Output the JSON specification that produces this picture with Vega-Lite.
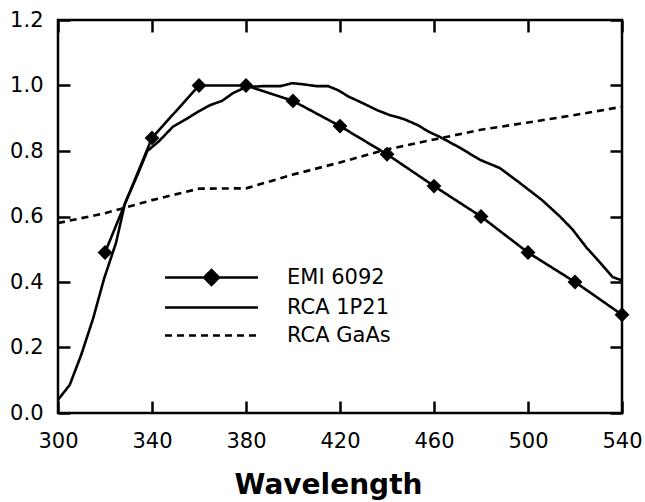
{
  "$schema": "https://vega.github.io/schema/vega-lite/v6.json",
  "width": 564,
  "height": 393,
  "autosize": {"type": "none"},
  "padding": {"left": 58, "top": 20, "right": 23, "bottom": 89},
  "background": "white",
  "config": {
    "font": "DejaVu Sans",
    "view": {"stroke": "black", "strokeWidth": 2.5},
    "axis": {"domain": false, "labelColor": "black", "labelFont": "DejaVu Sans", "labelFontSize": 21, "labelOverlap": false, "titleColor": "black", "ticks": false, "grid": true, "gridColor": "black", "gridWidth": 2.5, "gridOpacity": 1}
  },
  "data": {"values": [
    {"series": "EMI 6092", "nm": 320, "v": 0.49},
    {"series": "EMI 6092", "nm": 340, "v": 0.84},
    {"series": "EMI 6092", "nm": 360, "v": 1.0},
    {"series": "EMI 6092", "nm": 380, "v": 1.0},
    {"series": "EMI 6092", "nm": 400, "v": 0.953},
    {"series": "EMI 6092", "nm": 420, "v": 0.876},
    {"series": "EMI 6092", "nm": 440, "v": 0.79},
    {"series": "EMI 6092", "nm": 460, "v": 0.693},
    {"series": "EMI 6092", "nm": 480, "v": 0.6},
    {"series": "EMI 6092", "nm": 500, "v": 0.49},
    {"series": "EMI 6092", "nm": 520, "v": 0.4},
    {"series": "EMI 6092", "nm": 540, "v": 0.3},
    {"series": "RCA 1P21", "nm": 300, "v": 0.04},
    {"series": "RCA 1P21", "nm": 305, "v": 0.086},
    {"series": "RCA 1P21", "nm": 310, "v": 0.18},
    {"series": "RCA 1P21", "nm": 315, "v": 0.29},
    {"series": "RCA 1P21", "nm": 319.6, "v": 0.41},
    {"series": "RCA 1P21", "nm": 324.7, "v": 0.52},
    {"series": "RCA 1P21", "nm": 328.5, "v": 0.64},
    {"series": "RCA 1P21", "nm": 334, "v": 0.73},
    {"series": "RCA 1P21", "nm": 338, "v": 0.8},
    {"series": "RCA 1P21", "nm": 343, "v": 0.83},
    {"series": "RCA 1P21", "nm": 349, "v": 0.875},
    {"series": "RCA 1P21", "nm": 354, "v": 0.895},
    {"series": "RCA 1P21", "nm": 359.6, "v": 0.92},
    {"series": "RCA 1P21", "nm": 364.7, "v": 0.94},
    {"series": "RCA 1P21", "nm": 369.8, "v": 0.953},
    {"series": "RCA 1P21", "nm": 374.5, "v": 0.977},
    {"series": "RCA 1P21", "nm": 380, "v": 0.995},
    {"series": "RCA 1P21", "nm": 387, "v": 0.998},
    {"series": "RCA 1P21", "nm": 394.5, "v": 0.998},
    {"series": "RCA 1P21", "nm": 399.6, "v": 1.007},
    {"series": "RCA 1P21", "nm": 404, "v": 1.004},
    {"series": "RCA 1P21", "nm": 410, "v": 0.998},
    {"series": "RCA 1P21", "nm": 415, "v": 0.998},
    {"series": "RCA 1P21", "nm": 419, "v": 0.986},
    {"series": "RCA 1P21", "nm": 424, "v": 0.965},
    {"series": "RCA 1P21", "nm": 430, "v": 0.945},
    {"series": "RCA 1P21", "nm": 435.7, "v": 0.925},
    {"series": "RCA 1P21", "nm": 441, "v": 0.91},
    {"series": "RCA 1P21", "nm": 447, "v": 0.898},
    {"series": "RCA 1P21", "nm": 452.8, "v": 0.88},
    {"series": "RCA 1P21", "nm": 458, "v": 0.858},
    {"series": "RCA 1P21", "nm": 462.5, "v": 0.843},
    {"series": "RCA 1P21", "nm": 471, "v": 0.81},
    {"series": "RCA 1P21", "nm": 479.6, "v": 0.773},
    {"series": "RCA 1P21", "nm": 488, "v": 0.748},
    {"series": "RCA 1P21", "nm": 496.6, "v": 0.702},
    {"series": "RCA 1P21", "nm": 506, "v": 0.65},
    {"series": "RCA 1P21", "nm": 513.6, "v": 0.6},
    {"series": "RCA 1P21", "nm": 519, "v": 0.56},
    {"series": "RCA 1P21", "nm": 525, "v": 0.504},
    {"series": "RCA 1P21", "nm": 530.6, "v": 0.46},
    {"series": "RCA 1P21", "nm": 536, "v": 0.415},
    {"series": "RCA 1P21", "nm": 540, "v": 0.405},
    {"series": "RCA GaAs", "nm": 300, "v": 0.58},
    {"series": "RCA GaAs", "nm": 320, "v": 0.61},
    {"series": "RCA GaAs", "nm": 340, "v": 0.65},
    {"series": "RCA GaAs", "nm": 360, "v": 0.685},
    {"series": "RCA GaAs", "nm": 380, "v": 0.686},
    {"series": "RCA GaAs", "nm": 400, "v": 0.728},
    {"series": "RCA GaAs", "nm": 420, "v": 0.765},
    {"series": "RCA GaAs", "nm": 440, "v": 0.805},
    {"series": "RCA GaAs", "nm": 460, "v": 0.835},
    {"series": "RCA GaAs", "nm": 480, "v": 0.865},
    {"series": "RCA GaAs", "nm": 500, "v": 0.887},
    {"series": "RCA GaAs", "nm": 520, "v": 0.91},
    {"series": "RCA GaAs", "nm": 540, "v": 0.935}
  ]},
  "resolve": {"axis": {"x": "independent", "y": "independent"}},
  "layer": [
    {
      "mark": {"type": "line", "color": "black", "strokeWidth": 2.6, "clip": true},
      "encoding": {
        "x": {"field": "nm", "type": "quantitative", "scale": {"domain": [300, 540], "nice": false, "zero": false},
          "axis": {"orient": "bottom", "title": "Wavelength", "titleFont": "DejaVu Sans", "titleFontSize": 28, "titleFontWeight": "bold", "titleBaseline": "alphabetic", "titleY": 80, "titleX": 270, "titleAlign": "center",
            "values": [300, 340, 380, 420, 460, 500, 540], "format": "d",
            "gridDash": [12, 369],
            "labelPadding": 17, "labelFlush": false, "labelOverlap": false, "labelBound": false}},
        "y": {"field": "v", "type": "quantitative", "scale": {"domain": [0, 1.2], "nice": false},
          "axis": {"orient": "left", "title": null,
            "values": [0, 0.2, 0.4, 0.6, 0.8, 1.0, 1.2], "format": ".1f",
            "gridDash": [12, 540],
            "labelPadding": 15, "labelFlush": false, "labelOverlap": false, "labelBound": false}},
        "strokeDash": {"field": "series", "type": "nominal",
          "scale": {"domain": ["EMI 6092", "RCA 1P21", "RCA GaAs"], "range": [[1, 0], [1, 0], [7, 5]]},
          "legend": {"orient": "none", "legendX": 142, "legendY": 246, "title": null, "symbolSize": 400, "symbolStrokeWidth": 2.5, "symbolStrokeColor": "black", "symbolOpacity": 1,
            "labelFontSize": 21, "labelFont": "DejaVu Sans", "labelColor": "black", "labelOffset": 64, "rowPadding": 6, "padding": 0,
            "encode": {"symbols": {"update": {
              "shape": {"signal": "datum.value === 'EMI 6092' ? 'M-4.65,0H4.65M-0.75,0L0,-0.75L0.75,0L0,0.75Z' : 'M-4.65,0H4.65'"},
              "fill": {"value": "black"}, "stroke": {"value": "black"}, "strokeWidth": {"value": 2.5}, "opacity": {"value": 1}}}}}}
      }
    },
    {
      "transform": [{"filter": "datum.series === 'EMI 6092'"}],
      "mark": {"type": "point", "shape": "diamond", "filled": true, "color": "black", "size": 220, "opacity": 1},
      "encoding": {
        "x": {"field": "nm", "type": "quantitative",
          "axis": {"orient": "top", "title": null, "labels": false,
            "values": [320, 360, 400, 440, 480, 520],
            "gridDash": [8, 377]}},
        "y": {"field": "v", "type": "quantitative",
          "axis": {"orient": "right", "title": null, "labels": false,
            "values": [0.0667, 0.1333, 0.2667, 0.3333, 0.4667, 0.5333, 0.6667, 0.7333, 0.8667, 0.9333, 1.0667, 1.1333],
            "gridDash": [8, 548]}}
      }
    }
  ]
}
